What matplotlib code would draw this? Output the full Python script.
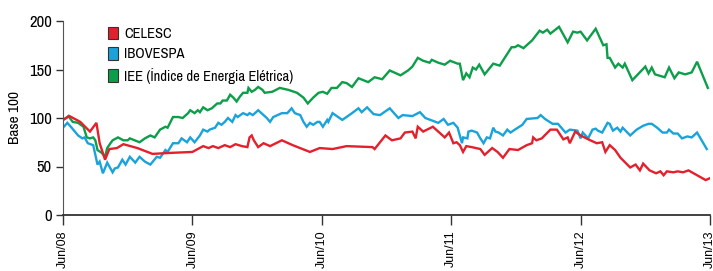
import matplotlib
matplotlib.use("Agg")
import matplotlib.pyplot as plt
from matplotlib.patches import Patch

# x = months since Jun/08, y = base 100
iee_x = [0.0, 0.4, 0.5, 0.9, 1.4, 1.9, 2.2, 2.5, 2.8, 3.0, 3.2, 3.6, 3.9, 4.1, 4.4, 4.6,
         5.1, 5.6, 6.0, 6.2, 7.1, 7.6, 8.1, 8.5, 9.0, 9.5, 9.7, 10.2, 10.7, 11.1, 11.6,
         11.8, 12.2, 12.5, 12.7, 13.0, 13.4, 13.8, 14.3, 14.6, 14.8, 15.2, 15.5, 15.8,
         16.1, 16.4, 16.7, 17.1, 17.2, 17.5, 17.8, 18.1, 18.5, 18.7, 19.4, 20.1, 20.9,
         21.7, 22.3, 22.7, 23.2, 23.7, 24.1, 24.5, 24.9, 25.4, 25.9, 26.3, 26.8, 27.4,
         28.3, 28.9, 29.6, 30.3, 31.3, 32.0, 32.4, 32.9, 33.4, 34.0, 34.2, 34.8, 35.4,
         35.9, 36.6, 36.8, 37.1, 37.4, 37.7, 38.0, 38.3, 38.6, 39.1, 39.9, 40.5, 41.6,
         41.9, 42.2, 42.7, 43.5, 44.2, 44.5, 44.9, 45.2, 46.0, 46.8, 47.3, 47.7, 48.0,
         48.6, 49.4, 50.1, 50.4, 50.5, 50.7, 51.2, 51.5, 51.9, 52.1, 52.8, 54.0, 54.3,
         54.6, 54.9, 55.8, 56.2, 56.7, 57.1, 57.7, 58.3, 58.8, 59.8]
iee_y = [98, 101, 102, 96, 95, 91, 80, 79, 80, 77, 67, 64, 60, 69, 74, 77,
         80, 77, 77, 79, 75, 79, 82, 80, 88, 91, 90, 101, 101, 100, 105,
         108, 105, 108, 106, 111, 108, 110, 115, 115, 118, 118, 124, 121,
         117, 122, 126, 126, 131, 127, 129, 132, 129, 126, 127, 131, 129,
         126, 121, 115, 121, 126, 127, 125, 131, 131, 137, 136, 132, 141,
         137, 142, 140, 149, 144, 149, 153, 162, 159, 157, 160, 157, 155,
         159, 156, 156, 139, 146, 142, 152, 150, 155, 145, 156, 154, 173,
         173, 175, 172, 180, 190, 188, 191, 187, 194, 178, 189, 188, 189,
         180, 192, 175, 176, 162, 162, 152, 156, 152, 156, 139, 153, 146,
         152, 145, 142, 152, 141, 147, 145, 147, 158, 131]

ibov_x = [0.0, 0.4, 0.8, 1.4, 1.8, 2.0, 2.3, 2.8, 3.2, 3.4, 3.7, 4.1, 4.4, 4.6, 4.8,
          5.1, 5.5, 5.8, 6.2, 6.7, 7.1, 7.6, 8.1, 8.7, 9.0, 9.5, 9.7, 10.2, 10.7, 11.0,
          11.5, 11.8, 12.2, 12.7, 13.0, 13.4, 13.6, 14.1, 14.4, 14.7, 15.0, 15.3, 15.7,
          16.0, 16.2, 16.7, 17.1, 17.3, 17.6, 18.1, 18.6, 18.9, 19.2, 19.5, 19.9, 20.3,
          20.8, 21.2, 21.5, 22.0, 22.3, 22.6, 22.9, 23.2, 23.6, 23.8, 24.1, 24.5, 24.6,
          25.0, 25.9, 26.8, 27.4, 27.7, 28.2, 28.8, 29.4, 30.3, 31.1, 31.5, 32.4, 33.1,
          33.6, 34.8, 35.3, 35.7, 36.2, 36.6, 37.0, 37.1, 37.5, 37.6, 37.9, 38.4, 38.7,
          39.0, 39.3, 39.6, 39.9, 40.1, 40.4, 40.8, 41.2, 41.5, 41.9, 42.6, 43.0, 44.0,
          44.3, 44.7, 45.4, 45.9, 46.6, 47.0, 47.7, 48.0, 48.2, 48.7, 49.1, 49.4, 49.6,
          50.0, 50.5, 50.7, 51.0, 51.4, 51.7, 51.9, 52.6, 53.2, 53.8, 54.3, 54.6, 55.1,
          55.6, 56.0, 56.2, 56.6, 57.0, 57.4, 57.9, 58.3, 58.8, 59.7]
ibov_y = [90, 95, 90, 82, 79, 80, 74, 72, 52, 55, 43, 54, 48, 44, 48,
          49, 57, 52, 60, 54, 60, 55, 52, 60, 59, 67, 65, 74, 74, 79,
          75, 80, 75, 82, 88, 86, 88, 90, 95, 93, 96, 100, 96,
          103, 101, 105, 103, 105, 103, 108, 103, 100, 96, 101, 103, 105,
          105, 110, 105, 103, 96, 91, 95, 93, 96, 96, 91, 98, 96,
          105, 98, 105, 110, 106, 111, 104, 103, 110, 100, 103, 102, 106,
          100, 95, 99, 93, 95, 90, 74, 80, 79, 86, 87, 85, 79,
          74, 80, 79, 90, 86, 85, 82, 88, 85, 88, 93, 99, 100,
          103, 99, 94, 94, 85, 88, 87, 79, 85, 79, 88, 89, 87,
          85, 95, 94, 87, 90, 86, 90, 82, 88, 92, 94, 94, 90,
          85, 85, 88, 84, 84, 79, 81, 80, 85, 68]

celesc_x = [0.0, 0.6, 1.6, 2.5, 3.1, 3.4, 3.9, 4.3, 5.0, 5.6, 6.9, 8.3, 9.9, 12.0,
            13.0, 13.5, 13.9, 14.4, 15.0, 15.5, 16.0, 16.6, 17.1, 17.3, 17.5, 17.7,
            18.1, 18.6, 19.2, 20.3, 21.3, 22.9, 23.8, 25.0, 26.3, 28.7, 28.9, 29.9,
            30.5, 31.3, 31.7, 32.4, 32.7, 32.9, 33.4, 34.3, 34.8, 35.4, 35.8, 36.2,
            36.5, 36.8, 37.1, 37.4, 37.9, 38.7, 39.1, 39.8, 40.3, 40.8, 41.4, 42.2,
            43.0, 43.5, 43.6, 43.9, 44.4, 45.2, 45.8, 46.4, 46.8, 47.0, 47.5, 48.0,
            48.9, 49.5, 50.0, 50.3, 50.7, 51.2, 51.7, 52.6, 53.1, 53.5, 53.8, 54.4,
            55.0, 55.4, 55.7, 56.0, 56.6, 57.0, 57.5, 58.0, 58.8, 59.6, 60.0]
celesc_y = [98, 102, 96, 86, 95, 74, 57, 68, 69, 73, 69, 63, 64, 65,
            71, 69, 71, 69, 72, 70, 73, 71, 70, 80, 82, 77,
            70, 74, 71, 77, 72, 65, 69, 68, 71, 70, 68, 82,
            77, 79, 85, 86, 79, 91, 86, 91, 86, 80, 85, 74,
            75, 72, 65, 71, 70, 68, 62, 69, 65, 59, 68, 67,
            72, 74, 80, 77, 79, 88, 88, 78, 80, 74, 86, 82,
            77, 74, 75, 65, 72, 67, 59, 49, 52, 46, 53, 46,
            43, 45, 41, 45, 44, 45, 44, 46, 41, 36, 38]

tick_pos = [0, 12, 24, 36, 48, 60]
tick_labels = ["Jun/08", "Jun/09", "Jun/10", "Jun/11", "Jun/12", "Jun/13"]

red = "#e3202b"
blue = "#1aa3db"
green = "#0d9e4a"
narrow = ["Archivo Narrow", "Liberation Sans Narrow", "Roboto", "DejaVu Sans"]

fig = plt.figure(figsize=(7.13, 2.71), dpi=100)
ax = fig.add_axes([63/713, 56/271, 647/713, 194/271])

ax.plot(iee_x, iee_y, color=green, lw=1.7, solid_joinstyle="miter")
ax.plot(ibov_x, ibov_y, color=blue, lw=1.7, solid_joinstyle="miter")
ax.plot(celesc_x, celesc_y, color=red, lw=1.7, solid_joinstyle="miter")

ax.set_xlim(0, 60)
ax.set_ylim(0, 200)
ax.set_xticks(tick_pos)
ax.set_xticklabels(tick_labels, rotation=90, fontsize=9, family="Liberation Sans", va="top")
ax.set_yticks([0, 50, 100, 150, 200])
ax.set_yticklabels(["0", "50", "100", "150", "200"], fontsize=12, family=narrow)
ax.tick_params(axis="x", length=7, width=1, pad=4, colors="#333333")
ax.tick_params(axis="y", length=5, width=1, pad=3, colors="#333333")
for lbl in ax.get_xticklabels() + ax.get_yticklabels():
    lbl.set_color("black")
ax.set_ylabel("Base 100", fontsize=11, family=narrow, labelpad=5)

for s in ["top", "right"]:
    ax.spines[s].set_visible(False)
ax.spines["left"].set_color("#555555")
ax.spines["bottom"].set_color("#333333")
ax.spines["bottom"].set_linewidth(1.3)

handles = [Patch(facecolor=red, edgecolor="#333333", lw=0.8),
           Patch(facecolor=blue, edgecolor="#333333", lw=0.8),
           Patch(facecolor=green, edgecolor="#333333", lw=0.8)]
ax.legend(handles, ["CELESC", "IBOVESPA", "IEE (Índice de Energia Elétrica)"],
          loc="upper left", bbox_to_anchor=(0.0696, 0.968), frameon=False,
          prop={"family": narrow, "size": 10.5}, handlelength=0.65, handleheight=0.9,
          handletextpad=0.45, labelspacing=0.42, borderaxespad=0, borderpad=0)

fig.savefig("out.png", dpi=100)
